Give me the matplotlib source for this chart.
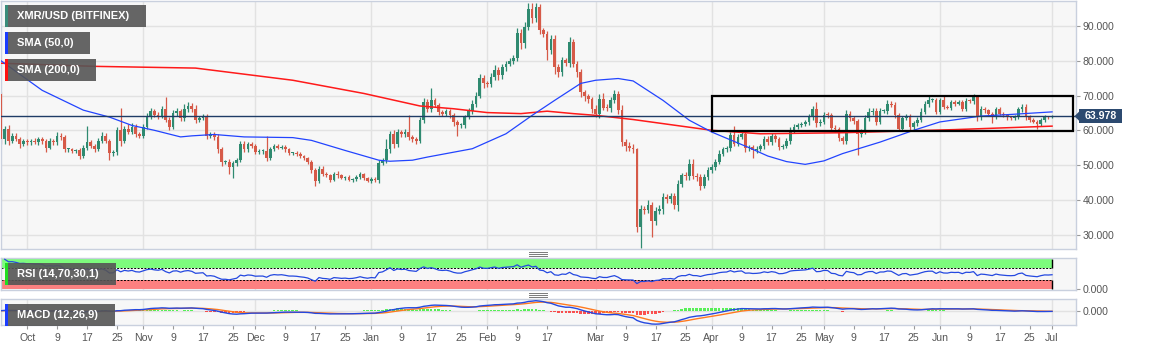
import matplotlib
matplotlib.use('Agg')
import matplotlib.pyplot as plt
import matplotlib.dates as mdates
from matplotlib.patches import Rectangle, Polygon
from matplotlib.lines import Line2D
import numpy as np
import pandas as pd

plt.rcParams['font.family'] = ['Liberation Sans', 'DejaVu Sans']

W, H = 1153, 351

# ---------------- data (daily XMR/USD closes) ----------------
first_open = 70.5
close_sep = [57.5, 60.5, 57, 58.5, 57.5, 56, 57]
close_oct = [56.5, 57, 56.5, 57.5, 57, 55, 57, 56.5, 58.5, 58,
             54.5, 54.5, 54, 54.2, 52.5, 55, 56.5, 55.5, 54.5, 57,
             58.5, 57, 53.5, 53.8, 60, 57, 60.5, 59.5, 61, 59, 58.5]
close_nov = [61, 64, 65.5, 64.5, 64, 66, 63, 61, 65, 65.5,
             63.5, 66, 67, 66, 63, 63.5, 64, 58.5, 59, 58,
             54.5, 51, 51, 49.5, 50.5, 51.5, 56, 54.5, 56, 55.5]
close_dec = [53.8, 54, 54, 52, 54.5, 55.5, 55, 55.3, 54.5, 53.5,
             53.5, 53.2, 52.5, 52, 51, 48.5, 45.5, 49, 47.5, 47,
             45.8, 47.5, 47, 46.3, 46.5, 45.8, 46, 46.5, 47.3, 46.2, 45.5]
close_jan = [46, 45.6, 50.6, 51.5, 54.5, 59, 56, 59.5, 58.8, 59.5,
             58, 57.5, 57, 63, 68, 66, 68.6, 67.2, 65.3, 64.8,
             65.5, 64.4, 62.5, 61.5, 61.5, 63.8, 65.5, 67.7, 69.9, 75, 73.5]
close_feb = [73.4, 75.4, 77.3, 75.8, 78.2, 79.2, 80, 80.8, 87.9, 85,
             89.8, 95, 92.2, 95.4, 88.8, 87.8, 83.1, 86.4, 78.2, 76.8,
             80.2, 79.5, 85.4, 79.2, 76.8, 71, 69.8, 69, 66.2]
close_mar = [64.8, 69.1, 66.5, 66.4, 68.6, 70.5, 65.8, 56.6, 55.5, 55,
             54.6, 32.1, 37.4, 37, 38.5, 34, 36.7, 37.5, 40.8, 40.2,
             41, 38.4, 44.6, 47, 46.8, 50.4, 46.8, 46.5, 44.1, 46.6, 48.5]
close_apr = [49.4, 50.9, 53.3, 54.5, 55, 58.6, 56.2, 58.1, 58.9, 54.8,
             55.2, 54.3, 54.6, 55.4, 57.6, 56.6, 58.3, 57.5, 55.2, 55.5,
             57, 60, 61, 61.4, 61.9, 62.3, 63.8, 66, 62, 62.4]
close_may = [64.5, 64.3, 60.8, 60.3, 57.8, 57, 64.8, 63.4, 62.7, 59,
             59.5, 63.4, 65.3, 65.6, 62.4, 65.5, 65.6, 67.7, 67.3, 64.3,
             60.5, 63.5, 64, 61, 62, 63, 65.3, 67.5, 68.6, 68.6, 65.3]
close_jun = [68.6, 66.7, 66.5, 68, 67.7, 68, 66.2, 68.5, 68.3, 69.6,
             63.8, 66.2, 65.7, 64.8, 63.8, 66, 64.8, 64.3, 63.7, 63.5,
             63.8, 66, 66.8, 63.8, 63, 62.5, 61.9, 63, 63.8, 63.7]
close_jul = [63.978]

# upper / lower wick lengths beyond the candle body
wup_sep = [0.5, 0.8, 1.0, 0.6, 0.8, 0.7, 0.6]
wdn_sep = [1.5, 1.5, 1.2, 0.6, 0.7, 1.0, 0.5]
wup_oct = [0.6, 0.5, 0.8, 0.7, 0.5, 0.6, 0.8, 0.6, 1.0, 0.7,
           0.6, 0.5, 0.4, 0.5, 0.6, 0.8, 4.7, 0.6, 0.5, 0.7,
           0.9, 0.6, 0.5, 0.4, 1.0, 6.5, 0.8, 1.2, 1.0, 0.8, 0.6]
wdn_oct = [0.6, 0.7, 0.5, 0.6, 0.8, 1.2, 0.5, 0.6, 0.6, 0.8,
           0.7, 0.6, 0.5, 0.6, 0.9, 0.5, 0.6, 0.7, 0.6, 0.5,
           0.6, 0.7, 2.0, 1.0, 0.8, 1.5, 0.7, 0.6, 0.7, 0.9, 0.6]
wup_nov = [0.8, 0.9, 0.8, 0.6, 0.7, 1.0, 3.5, 0.8, 0.7, 0.9,
           0.6, 1.5, 1.0, 0.8, 1.2, 0.6, 0.7, 0.6, 0.5, 0.6,
           0.8, 0.6, 0.5, 0.7, 0.8, 0.6, 0.9, 0.8, 0.7, 0.6]
wdn_nov = [0.7, 0.6, 0.7, 0.6, 0.8, 0.6, 0.7, 1.0, 0.6, 0.8,
           0.7, 0.8, 0.6, 0.7, 0.8, 0.6, 0.6, 1.0, 0.6, 0.8,
           0.9, 1.2, 0.8, 2.0, 3.3, 0.8, 0.7, 0.6, 0.8, 0.7]
wup_dec = [0.5, 0.6, 0.5, 4.5, 0.6, 0.5, 0.6, 0.5, 0.6, 0.5,
           0.4, 0.5, 0.6, 0.5, 0.4, 0.5, 0.6, 0.7, 0.6, 0.5,
           0.4, 0.6, 0.8, 0.5, 0.4, 0.5, 0.4, 0.5, 0.6, 0.5, 0.5]
wdn_dec = [0.6, 0.5, 0.7, 0.8, 0.6, 0.5, 0.4, 0.5, 0.6, 0.7,
           0.5, 0.6, 0.5, 0.6, 0.8, 0.7, 1.4, 0.8, 0.6, 0.5,
           0.7, 0.5, 0.6, 0.4, 0.7, 0.5, 0.6, 0.5, 0.4, 0.6, 0.5]
wup_jan = [0.5, 0.6, 0.8, 0.6, 3.0, 0.8, 1.2, 0.9, 0.7, 0.8,
           5.0, 0.6, 0.7, 0.8, 1.2, 1.0, 3.5, 0.8, 0.6, 0.5,
           0.7, 0.6, 0.5, 0.6, 0.5, 0.7, 0.8, 0.9, 1.0, 1.2, 1.0]
wdn_jan = [0.6, 0.5, 0.7, 0.6, 0.8, 0.9, 1.0, 0.7, 0.8, 0.6,
           0.7, 0.8, 0.9, 0.7, 0.9, 0.8, 0.7, 0.6, 0.8, 0.7,
           0.6, 0.8, 1.2, 3.0, 0.8, 0.7, 0.6, 0.8, 0.9, 0.7, 1.2]
wup_feb = [0.8, 1.2, 1.5, 1.0, 1.0, 0.8, 0.9, 1.0, 1.5, 1.2,
           1.5, 1.5, 1.6, 1.2, 0.8, 0.6, 0.8, 0.9, 1.0, 0.8,
           1.0, 0.7, 1.5, 1.0, 0.8, 0.7, 0.6, 0.7, 0.6]
wdn_feb = [1.0, 0.9, 0.8, 1.2, 0.9, 1.0, 0.8, 0.9, 1.0, 1.5,
           1.2, 1.0, 1.2, 1.0, 1.2, 1.0, 3.0, 1.2, 2.0, 1.5,
           1.2, 1.0, 1.2, 1.0, 1.5, 1.5, 1.5, 1.2, 1.3]
wup_mar = [1.0, 1.2, 1.5, 1.0, 1.0, 1.2, 0.8, 1.5, 0.8, 1.0,
           1.2, 0.4, 1.0, 0.8, 1.5, 1.0, 1.2, 0.9, 1.2, 0.8,
           0.9, 1.0, 1.2, 0.8, 1.0, 1.2, 1.2, 0.8, 1.0, 0.9, 0.8]
wdn_mar = [1.0, 1.2, 0.8, 0.9, 1.0, 0.8, 1.0, 1.2, 1.5, 1.0,
           1.0, 1.5, 6.1, 1.0, 0.8, 4.7, 1.2, 0.8, 1.5, 1.0,
           1.2, 1.0, 1.5, 0.8, 1.0, 1.2, 0.8, 1.0, 1.2, 0.8, 0.9]
wup_apr = [0.8, 0.9, 1.0, 0.8, 0.6, 1.0, 2.5, 0.9, 1.0, 0.8,
           0.6, 0.7, 0.8, 0.6, 0.9, 0.7, 1.0, 0.6, 0.7, 0.6,
           0.8, 0.9, 0.8, 0.6, 0.5, 0.7, 0.8, 1.0, 2.2, 0.8]
wdn_apr = [0.7, 0.8, 0.6, 0.7, 0.8, 0.9, 0.8, 0.7, 0.6, 0.9,
           0.8, 2.2, 0.7, 0.6, 0.8, 0.9, 0.7, 0.8, 1.0, 0.6,
           0.7, 0.8, 0.7, 0.6, 0.5, 0.6, 0.7, 0.8, 1.0, 0.9]
wup_may = [0.8, 0.7, 0.6, 0.8, 0.7, 0.6, 1.0, 0.8, 0.7, 0.6,
           0.8, 0.9, 1.2, 0.8, 0.7, 0.9, 0.6, 1.0, 0.7, 0.8,
           0.6, 0.7, 0.8, 0.6, 0.7, 0.8, 1.0, 0.9, 1.2, 0.8, 0.7]
wdn_may = [0.7, 0.8, 0.9, 0.8, 1.0, 0.9, 0.8, 0.7, 0.9, 6.2,
           0.8, 0.7, 0.6, 0.8, 0.9, 0.7, 0.6, 0.8, 0.7, 0.9,
           0.8, 0.7, 0.6, 0.9, 0.8, 0.7, 0.6, 0.7, 0.8, 0.6, 0.7]
wup_jun = [0.8, 1.4, 0.6, 0.7, 0.8, 0.6, 0.7, 0.8, 0.6, 0.8,
           0.5, 0.7, 0.6, 0.5, 0.6, 0.8, 0.7, 0.6, 0.5, 0.4,
           0.5, 0.6, 0.8, 0.7, 0.5, 0.4, 0.5, 0.6, 0.5, 0.4]
wdn_jun = [0.6, 0.7, 0.5, 0.6, 0.7, 0.5, 0.6, 0.7, 0.5, 0.6,
           1.0, 0.7, 0.6, 0.7, 1.6, 0.6, 0.5, 0.6, 0.7, 0.5,
           0.6, 0.5, 0.6, 0.7, 0.6, 0.5, 1.5, 0.6, 0.5, 0.4]
wup_jul = [0.3]
wdn_jul = [0.3]

# moving averages
sma50_dates = ['2019-09-24', '2019-10-05', '2019-10-16', '2019-10-23', '2019-10-29',
               '2019-11-04', '2019-11-11', '2019-11-14', '2019-11-20', '2019-11-28',
               '2019-12-11', '2019-12-16', '2019-12-25', '2020-01-03', '2020-01-06',
               '2020-01-12', '2020-01-16', '2020-01-28', '2020-02-06', '2020-02-13',
               '2020-02-19', '2020-02-26', '2020-03-01', '2020-03-07', '2020-03-11',
               '2020-03-19', '2020-03-26', '2020-04-01', '2020-04-11', '2020-04-16',
               '2020-04-21', '2020-04-26', '2020-05-01', '2020-05-06', '2020-05-16',
               '2020-05-25', '2020-06-01', '2020-06-12', '2020-06-19', '2020-07-01']
sma50_vals = [80.0, 71.5, 65.8, 63.8, 61.4,
              60.0, 58.1, 58.4, 58.8, 58.1,
              57.9, 57.1, 54.2, 51.4, 51.1,
              51.4, 52.3, 54.7, 59.0, 64.3,
              68.6, 73.5, 74.4, 74.9, 74.2,
              68.6, 62.9, 59.5, 55.0, 52.6,
              51.0, 50.2, 51.2, 53.3, 56.6,
              60.0, 62.4, 64.1, 64.5, 65.3]
sma200_dates = ['2019-09-24', '2019-10-19', '2019-11-15', '2019-12-11', '2019-12-30',
                '2020-01-14', '2020-01-23', '2020-02-01', '2020-02-10', '2020-02-17',
                '2020-02-24', '2020-03-01', '2020-03-11', '2020-04-01', '2020-04-14',
                '2020-05-06', '2020-06-05', '2020-07-01']
sma200_vals = [79.3, 78.4, 77.9, 74.4, 70.6,
               67.0, 66.2, 65.1, 64.8, 65.5,
               64.8, 64.3, 63.1, 60.0, 59.0,
               59.3, 60.2, 61.2]

last_price = 63.978
range_box = {'start': '2020-04-01', 'end': '2020-07-06 16:00', 'low': 59.7, 'high': 69.9}

price_ticks = [30, 40, 50, 60, 70, 80, 90]
date_ticks = ['2019-10-01', '2019-10-09', '2019-10-17', '2019-10-25',
              '2019-11-01', '2019-11-09', '2019-11-17', '2019-11-25',
              '2019-12-01', '2019-12-09', '2019-12-17', '2019-12-25',
              '2020-01-01', '2020-01-09', '2020-01-17', '2020-01-25',
              '2020-02-01', '2020-02-09', '2020-02-17',
              '2020-03-01', '2020-03-09', '2020-03-17', '2020-03-25',
              '2020-04-01', '2020-04-09', '2020-04-17', '2020-04-25',
              '2020-05-01', '2020-05-09', '2020-05-17', '2020-05-25',
              '2020-06-01', '2020-06-09', '2020-06-17', '2020-06-25',
              '2020-07-01']

# ---------------- assemble ----------------
closes = np.array(close_sep + close_oct + close_nov + close_dec + close_jan + close_feb +
                  close_mar + close_apr + close_may + close_jun + close_jul, dtype=float)
wup = np.array(wup_sep + wup_oct + wup_nov + wup_dec + wup_jan + wup_feb +
               wup_mar + wup_apr + wup_may + wup_jun + wup_jul, dtype=float)
wdn = np.array(wdn_sep + wdn_oct + wdn_nov + wdn_dec + wdn_jan + wdn_feb +
               wdn_mar + wdn_apr + wdn_may + wdn_jun + wdn_jul, dtype=float)
dates = pd.date_range('2019-09-24', periods=len(closes), freq='D')
opens = np.concatenate([[first_open], closes[:-1]])
highs = np.maximum(opens, closes) + wup
lows = np.minimum(opens, closes) - wdn
xd = mdates.date2num(dates)

cs = pd.Series(closes)
delta = cs.diff()
gain = delta.clip(lower=0).ewm(alpha=1 / 14, adjust=False).mean()
loss = (-delta.clip(upper=0)).ewm(alpha=1 / 14, adjust=False).mean()
rsi = 100 - 100 / (1 + gain / loss)
macd = cs.ewm(span=12, adjust=False).mean() - cs.ewm(span=26, adjust=False).mean()
signal = macd.ewm(span=9, adjust=False).mean()
hist = macd - signal

# ---------------- figure ----------------
fig = plt.figure(figsize=(W / 100, H / 100), dpi=100, facecolor='white')


def fx(x):
    return x / W


def fy(y):
    return 1 - y / H


def ax_rect(x0, y0, x1, y1):
    return [fx(x0), fy(y1), fx(x1) - fx(x0), fy(y0) - fy(y1)]


ax = fig.add_axes(ax_rect(0.5, 1, 1076, 249))
ax_rsi = fig.add_axes(ax_rect(0.5, 258.3, 1076, 290), sharex=ax)
ax_macd = fig.add_axes(ax_rect(0.5, 299.3, 1076, 325), sharex=ax)

oct1 = mdates.date2num(pd.Timestamp('2019-10-01'))
xmin, xmax = oct1 - 7.14, oct1 + 280.4
jul1 = mdates.date2num(pd.Timestamp('2020-07-01'))
month_starts = mdates.date2num(pd.to_datetime(
    ['2019-10-01', '2019-11-01', '2019-12-01', '2020-01-01', '2020-02-01',
     '2020-03-01', '2020-04-01', '2020-05-01', '2020-06-01', '2020-07-01']))

spine_c = '#c9d0de'
grid_c = '#e2e2e2'
lab_c = '#555555'
FS = 7.6

for a in (ax, ax_rsi, ax_macd):
    a.set_facecolor('#f7f7f7')
    for s in a.spines.values():
        s.set_color(spine_c)
        s.set_linewidth(1.0)
    a.set_xlim(xmin, xmax)
    a.yaxis.tick_right()
    a.tick_params(axis='y', direction='out', length=3, width=0.8, color='#9a9a9a',
                  labelcolor=lab_c, labelsize=FS, pad=2)
    for m in month_starts:
        a.axvline(m, color=grid_c, lw=1.0, zorder=0)

# main price panel
ax.set_ylim(25.85, 97.2)
ax.set_yticks(price_ticks)
ax.set_yticklabels([f'{v:.3f}' for v in price_ticks])
for v in price_ticks:
    ax.axhline(v, color=grid_c, lw=1.0, zorder=0)

up = closes >= opens
c_up, c_dn = '#2f8a70', '#d65a48'
cols = np.where(up, c_up, c_dn)
ax.vlines(xd, lows, highs, colors=cols, lw=0.9, zorder=2)
body_lo = np.minimum(opens, closes)
body_h = np.maximum(np.abs(closes - opens), 0.3)
ax.bar(xd, body_h, bottom=body_lo, width=0.72, color=cols, linewidth=0, zorder=3)

ax.plot(mdates.date2num(pd.to_datetime(sma200_dates)), sma200_vals, color='#ff1a1a', lw=1.1, zorder=4)
ax.plot(mdates.date2num(pd.to_datetime(sma50_dates)), sma50_vals, color='#2244ff', lw=0.9, zorder=4)
ax.axhline(last_price, color='#1f3c66', lw=1.0, zorder=5)

bx0 = mdates.date2num(pd.Timestamp(range_box['start']))
bx1 = mdates.date2num(pd.Timestamp(range_box['end']))
ax.add_patch(Rectangle((bx0, range_box['low']), bx1 - bx0, range_box['high'] - range_box['low'],
                       fill=False, edgecolor='black', lw=1.6, zorder=6))
ax.tick_params(axis='x', length=0, labelbottom=False)

# RSI panel
ax_rsi.set_ylim(-2.3, 103.3)
ax_rsi.set_yticks([0])
ax_rsi.set_yticklabels(['0.000'])
ax_rsi.add_patch(Rectangle((xmin, 70), jul1 - xmin, 30, facecolor='#7dfc7d', edgecolor='none', zorder=1))
ax_rsi.add_patch(Rectangle((xmin, 0), jul1 - xmin, 30, facecolor='#fd8080', edgecolor='none', zorder=1))
ax_rsi.hlines([70, 30], xmin, jul1, colors='black', linestyles=(0, (2, 1.5)), lw=0.7, zorder=2)
ax_rsi.vlines([jul1, jul1], [70, 0], [100, 30], colors='black', lw=1.0, zorder=2)
ax_rsi.plot(xd, rsi, color='#2448e0', lw=0.9, zorder=3)
ax_rsi.tick_params(axis='x', length=0, labelbottom=False)

# MACD panel
top = float(macd.max()) * 1.14
ax_macd.set_ylim(-top * 14.3 / 11.4, top)
ax_macd.set_yticks([0])
ax_macd.set_yticklabels(['0.000'])
ax_macd.axhline(0, color=grid_c, lw=1.0, zorder=0)
hcols = np.where(hist.values >= 0, '#22ee22', '#ff1a1a')
ax_macd.bar(xd, hist.values, width=0.7, color=hcols, alpha=0.75, linewidth=0, zorder=2)
ax_macd.plot(xd, signal, color='#ff7a1f', lw=1.0, zorder=3)
ax_macd.plot(xd, macd, color='#2448e0', lw=1.0, zorder=4)

tick_x = mdates.date2num(pd.to_datetime(date_ticks))
tick_lbl = [pd.Timestamp(d).strftime('%b') if pd.Timestamp(d).day == 1 else str(pd.Timestamp(d).day)
            for d in date_ticks]
ax_macd.set_xticks(tick_x)
ax_macd.set_xticklabels(tick_lbl)
ax_macd.tick_params(axis='x', direction='out', length=3, width=0.8, color='#9a9a9a',
                    labelcolor=lab_c, labelsize=FS, pad=3)
ax.set_xlim(xmin, xmax)


# ---------------- overlays (legend boxes, price tag, handles) ----------------
def frect(x0, y0, x1, y1, **kw):
    fig.patches.append(Rectangle((fx(x0), fy(y1)), fx(x1) - fx(x0), fy(y0) - fy(y1),
                                 transform=fig.transFigure, **kw))


def label_box(x0, y0, x1, y1, stripe, text):
    frect(x0, y0, x1, y1, facecolor='#555555', alpha=0.9, edgecolor='none', zorder=10)
    frect(x0, y0, x0 + 2.6, y1, facecolor=stripe, edgecolor='none', zorder=11)
    fig.text(fx(x0 + 12), fy((y0 + y1) / 2), text, color='white', fontsize=8, fontweight='bold',
             ha='left', va='center', zorder=12)


label_box(5, 5, 146, 27, '#3a8c7a', 'XMR/USD (BITFINEX)')
label_box(5, 32, 90, 53.5, '#1a3cff', 'SMA (50,0)')
label_box(5, 59, 96, 81, '#ff1010', 'SMA (200,0)')
label_box(5, 262.7, 116, 284.7, '#22dd22', 'RSI (14,70,30,1)')
label_box(5, 304, 115, 326, '#1a3cff', 'MACD (12,26,9)')

# last price tag
py = 116.2
frect(1079, py - 7.2, 1122, py + 7.2, facecolor='#2c4a70', edgecolor='none', zorder=10)
fig.patches.append(Polygon([(fx(1074.5), fy(py)), (fx(1079.5), fy(py - 5)), (fx(1079.5), fy(py + 5))],
                           closed=True, transform=fig.transFigure, facecolor='#2c4a70',
                           edgecolor='none', zorder=10))
fig.text(fx(1100.5), fy(py), f'{last_price:.3f}', color='white', fontsize=FS, fontweight='bold',
         ha='center', va='center', zorder=11)

# drag handles
for yh in (252.3, 293.3):
    for k in range(3):
        fig.lines.append(Line2D([fx(529), fx(547)], [fy(yh + 1.7 * k)] * 2, transform=fig.transFigure,
                                color='#7a7a7a', lw=0.7, zorder=10))

fig.savefig('out.png', dpi=100, facecolor='white')
